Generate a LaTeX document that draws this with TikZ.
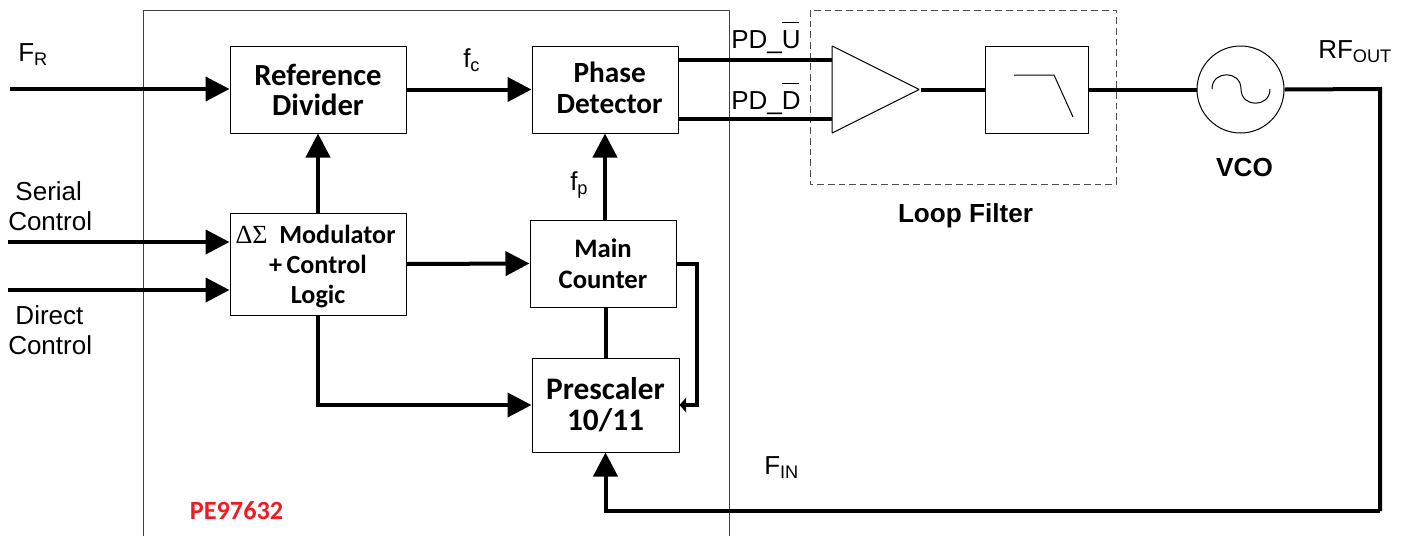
\documentclass[tikz,border=0pt]{standalone}
\usepackage{fontspec}
\setmainfont{Liberation Sans}
\newfontfamily\calibri{Carlito}
\newfontfamily\serifgrec{Liberation Serif}
\usetikzlibrary{arrows.meta,shapes.geometric}
\definecolor{rougepe}{RGB}{237,28,36}
\tikzset{
	bloc/.style={draw,line width=0.75pt,inner sep=0pt,align=center,font=\calibri\bfseries\fontsize{22}{23}\selectfont},
	etiq/.style={inner sep=0pt,align=left,font=\fontsize{19.5}{23}\selectfont},
	titre/.style={inner sep=0pt,font=\bfseries\fontsize{19.6}{22}\selectfont},
	fil/.style={line width=3pt,line join=miter},
	fleche/.style={fil,-{Triangle[length=18pt,width=18pt]}},
}
\begin{document}
\begin{tikzpicture}[x=0.75pt,y=-0.75pt,line join=bevel]
	\useasboundingbox (0,0) rectangle (1402,536);
	\draw[line width=0.75pt,black!75] (143,536)--(143,10)--(729,10)--(729,536) ;%PE97632
	\draw[line width=0.75pt,black!70,dashed,dash pattern=on 5pt off 3pt] (810,10) rectangle (1116,184) ;%filtre
	% blocs
	\node[bloc,minimum width=132pt,minimum height=65.25pt,font=\calibri\bfseries\fontsize{23}{22.5}\selectfont] (refdiv) at (318,89.5) {Reference\\Divider};
	\node[bloc,minimum width=109.5pt,minimum height=65.25pt] (phase) at (605,89.5) {\hspace*{7pt}Phase\\\hspace*{7pt}Detector\rule[-2.2pt]{0pt}{2.2pt}};
	\node[bloc,minimum width=132pt,minimum height=76.5pt,font=\calibri\bfseries\fontsize{19.6}{22.5}\selectfont] (mod) at (318,264) {\rule{0pt}{17pt}{\serifgrec\mdseries ΔΣ}\ \ Modulator\hspace*{3.75pt}\\+\,Control\\Logic};
	\node[bloc,minimum width=109.5pt,minimum height=65.25pt,font=\calibri\bfseries\fontsize{20}{23}\selectfont] (main) at (603,263.5) {Main\\Counter};
	\node[bloc,minimum width=110.25pt,minimum height=70.5pt,font=\calibri\bfseries\fontsize{23.5}{23}\selectfont] (presc) at (605.5,405) {Prescaler\\10/11};
	\node[isosceles triangle,isosceles triangle stretches,draw,line width=0.75pt,minimum height=65.25pt,minimum width=65.25pt,inner sep=0pt,anchor=apex] (ampli) at (920.5,89.5) {};
	\node[draw,line width=0.75pt,minimum width=77.25pt,minimum height=65.25pt,inner sep=0pt] (passe) at (1036.5,89.5) {};
	\node[draw,circle,line width=0.75pt,minimum size=65.25pt,inner sep=0pt] (vco) at (1240.5,89.5) {};
	\draw[line width=0.75pt] (1014,75)--(1054,75)--(1073,117) ;%gabarit
	\draw[line width=0.75pt] (1212,89) .. controls (1212,70) and (1241,70) .. (1241,89) .. controls (1241,108) and (1270,108) .. (1270,89) ;%sinus
	% textes
	\foreach \Coord/\Nom/\Ancre/\Texte in {(18,43)/fr/north west/{F\textsubscript{R}},(463,48)/fc/north west/{f\textsubscript{c}},(570,171)/fp/north west/{f\textsubscript{p}},(764,456)/fin/north west/{F\textsubscript{IN}},(1318,40)/rfout/north west/{RF\textsubscript{OUT}},(8,181)/serial/north west/{\ Serial\\Control},(8,305)/direct/north west/{\ Direct\\Control}}
		\node[etiq,anchor=\Ancre] (\Nom) at \Coord {\Texte} ;
	\node[etiq,anchor=west] (pdu) at (731,38) {PD\_\rlap{\rule[19pt]{13pt}{0.75pt}}U};
	\node[etiq,anchor=west] (pdd) at (731,99) {PD\_\rlap{\rule[19pt]{13pt}{0.75pt}}D};
	\node[titre] (vcotxt) at (1244.5,167) {VCO};
	\node[titre] (looptxt) at (965.5,215.5) {Loop Filter};
	\node[inner sep=0pt,text=rougepe,font=\calibri\bfseries\fontsize{19.7}{20}\selectfont] (petxt) at (236.5,511) {PE97632};
	% points libres
	\coordinate (entfr) at (10,89);
	\coordinate (entser) at (8,242);
	\coordinate (entdir) at (8,290);
	\coordinate (coin) at (1380,89);
	\coordinate (bas) at (1380,511);
	\coordinate (retour) at (697,264);
	\coordinate (pdhaut) at (832,60);
	\coordinate (pdbas) at (832,119);
	% liaisons
	\draw[fleche] (entfr)--(refdiv.west |- entfr) ;
	\draw[fleche] (refdiv.east)--(phase.west) ;
	\draw[fleche] (mod.north)--(refdiv.south) ;
	\draw[fleche] (entser)--(mod.west |- entser) ;
	\draw[fleche] (entdir)--(mod.west |- entdir) ;
	\draw[fleche] (mod.east)--(main.west) ;
	\draw[fleche] (phase.south |- main.north)--(phase.south) ;
	\draw[fil] (presc.north)--(presc.north |- main.south) ;
	\draw[fleche] (mod.south)|-(presc.west) ;
	\draw[fil,-{Triangle[length=5pt,width=11pt]}] (main.east |- retour)--(retour)|-(presc.east) ;
	\draw[fleche] (coin |- bas)--(presc.south |- bas)--(presc.south) ;
	\draw[fil] (vco.east)--(coin)--(bas) ;
	\draw[fil] (pdhaut -| phase.east)--(pdhaut) ;
	\draw[fil] (pdbas -| phase.east)--(pdbas) ;
	\draw[fil] (ampli.apex)--(passe.west) ;
	\draw[fil] (passe.east)--(vco.west) ;
\end{tikzpicture}
\end{document}
